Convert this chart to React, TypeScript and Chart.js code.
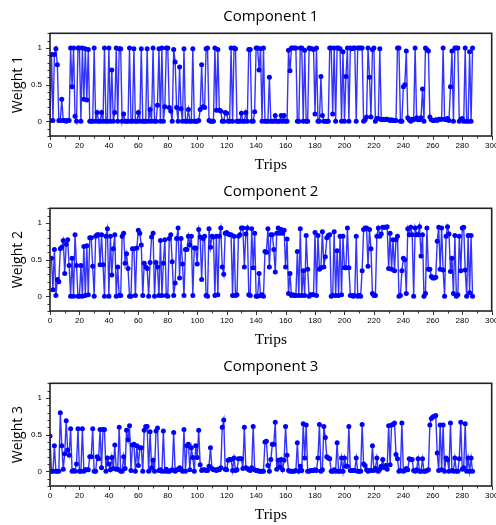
import React, { useEffect, useRef } from "react";
import { Chart, registerables } from "chart.js";

Chart.register(...registerables);

// Trip index (x values)
const TRIPS: number[] = Array.from({ length: 288 }, (_, i) => i);

const WEIGHT_1: number[] = [
  0.01, 0.91, 0.01, 0.91, 0.99, 0.77, 0.01, 0.01, 0.30, 0.01,
  0.01, 0.0, 0.01, 0.01, 1.0, 0.47, 1.0, 0.07, 0.0, 1.0,
  1.0, 0.0, 1.0, 0.30, 0.99, 0.29, 0.98, 0.0, 0.0, 0.0,
  1.0, 0.0, 0.12, 0.0, 0.0, 0.12, 0.0, 1.0, 0.0, 0.0,
  1.0, 0.0, 0.70, 0.0, 0.12, 1.0, 0.0, 0.99, 0.99, 0.0,
  0.10, 0.0, 0.0, 0.0, 1.0, 0.0, 0.0, 0.99, 0.0, 0.0,
  0.12, 0.0, 0.99, 0.0, 0.0, 0.0, 0.99, 0.0, 0.16, 0.0,
  1.0, 0.0, 0.0, 0.22, 0.99, 0.0, 1.0, 0.0, 0.20, 1.0,
  1.0, 0.19, 0.14, 0.0, 0.98, 0.81, 0.19, 0.0, 0.74, 0.17,
  0.0, 0.99, 0.0, 0.0, 0.16, 0.0, 0.0, 0.99, 0.0, 0.0,
  0.0, 0.01, 0.16, 0.77, 0.20, 0.19, 0.99, 1.0, 0.01, 0.0,
  0.0, 0.0, 1.0, 0.15, 0.98, 0.15, 0.14, 0.0, 0.0, 0.12,
  0.11, 0.0, 0.0, 1.0, 0.0, 1.0, 0.99, 0.0, 0.0, 0.0,
  0.11, 0.0, 0.0, 0.12, 0.0, 0.98, 0.98, 0.0, 0.0, 0.13,
  1.0, 1.0, 0.70, 0.99, 0.0, 1.0, 0.0, 0.0, 0.0, 0.60,
  0.0, 0.0, 0.0, 0.08, 0.0, 0.0, 0.0, 0.08, 0.0, 0.08,
  0.0, 0.0, 0.97, 0.69, 1.0, 1.0, 1.0, 1.0, 0.0, 0.0,
  1.0, 1.0, 0.0, 0.97, 0.0, 0.0, 1.0, 0.99, 0.99, 0.98,
  0.10, 1.0, 0.0, 0.0, 0.61, 0.08, 0.0, 0.0, 0.0, 0.0,
  1.0, 1.0, 0.10, 1.0, 0.0, 1.0, 1.0, 0.99, 0.0, 0.95,
  0.0, 0.61, 1.0, 0.0, 1.0, 0.99, 1.0, 1.0, 0.0, 1.0,
  1.0, 1.0, 1.0, 0.0, 0.02, 0.06, 1.0, 0.60, 0.06, 0.98,
  1.0, 0.0, 0.04, 0.04, 0.99, 0.02, 0.03, 0.02, 0.03, 0.03,
  0.02, 0.01, 0.02, 0.01, 0.01, 0.01, 1.0, 1.0, 0.0, 0.0,
  0.47, 0.50, 0.96, 0.05, 0.02, 0.0, 0.03, 0.02, 1.0, 0.05,
  0.02, 0.02, 0.05, 0.44, 0.0, 1.0, 0.98, 0.96, 0.06, 0.02,
  0.01, 0.01, 0.02, 0.01, 0.03, 0.03, 0.03, 1.0, 0.03, 0.02,
  0.04, 0.01, 0.47, 0.96, 0.0, 1.0, 1.0, 1.0, 0.0, 0.03,
  0.04, 0.0, 1.0, 0.0, 0.0, 0.95, 0.0, 1.0,
];

const WEIGHT_2: number[] = [
  0.52, 0.52, 0.09, 0.64, 0.01, 0.23, 0.20, 0.65, 0.67, 0.76,
  0.31, 0.71, 0.77, 0.42, 0.0, 0.52, 0.0, 0.84, 0.42, 0.0,
  0.0, 0.42, 0.0, 0.68, 0.01, 0.69, 0.02, 0.80, 0.80, 0.41,
  0.0, 0.82, 0.84, 0.84, 0.43, 0.84, 0.43, 0.0, 0.82, 0.92,
  0.0, 0.82, 0.29, 0.65, 0.84, 0.0, 0.40, 0.01, 0.01, 0.82,
  0.86, 0.45, 0.58, 0.38, 0.0, 0.0, 0.65, 0.65, 0.01, 0.66,
  0.90, 0.86, 0.70, 0.01, 0.45, 0.40, 0.38, 0.0, 0.46, 0.81,
  0.86, 0.0, 0.46, 0.40, 0.01, 0.76, 0.01, 0.45, 0.77, 0.01,
  0.0, 0.79, 0.84, 0.47, 0.01, 0.18, 0.79, 0.93, 0.25, 0.79,
  0.44, 0.01, 0.64, 0.64, 0.82, 0.70, 0.82, 0.01, 0.66, 0.66,
  0.44, 0.91, 0.81, 0.23, 0.79, 0.82, 0.01, 0.0, 0.92, 0.67,
  0.82, 0.81, 0.01, 0.82, 0.02, 0.82, 0.93, 0.40, 0.30, 0.86,
  0.87, 0.85, 0.84, 0.84, 0.01, 0.82, 0.01, 0.02, 0.82, 0.84,
  0.93, 0.93, 0.40, 0.85, 0.93, 0.02, 0.01, 0.92, 0.39, 0.86,
  0.0, 0.0, 0.31, 0.01, 0.02, 0.0, 0.61, 0.60, 0.92, 0.40,
  0.84, 0.84, 0.64, 0.33, 0.86, 0.93, 0.86, 0.91, 0.86, 0.90,
  0.40, 0.78, 0.04, 0.31, 0.01, 0.02, 0.01, 0.01, 0.61, 0.01,
  0.92, 0.01, 0.35, 0.01, 0.83, 0.37, 0.0, 0.02, 0.02, 0.02,
  0.87, 0.01, 0.83, 0.37, 0.39, 0.88, 0.40, 0.54, 0.80, 0.83,
  0.84, 0.0, 0.01, 0.88, 0.01, 0.62, 0.01, 0.82, 0.02, 0.82,
  0.39, 0.39, 0.93, 0.39, 0.01, 0.01, 0.0, 0.01, 0.82, 0.0,
  0.01, 0.0, 0.35, 0.91, 0.93, 0.93, 0.41, 0.91, 0.65, 0.04,
  0.01, 0.01, 0.82, 0.93, 0.82, 0.85, 0.94, 0.94, 0.94, 0.95,
  0.38, 0.86, 0.37, 0.77, 0.35, 0.77, 0.82, 0.0, 0.01, 0.35,
  0.52, 0.50, 0.04, 0.92, 0.84, 0.94, 0.84, 0.0, 0.93, 0.84,
  0.84, 0.95, 0.55, 0.84, 0.0, 0.04, 0.93, 0.37, 0.37, 0.27,
  0.25, 0.25, 0.26, 0.75, 0.94, 0.37, 0.93, 0.36, 0.0, 0.82,
  0.95, 0.85, 0.34, 0.52, 0.04, 0.83, 0.0, 0.02, 0.82, 0.35,
  0.93, 0.94, 0.36, 0.0, 0.83, 0.05, 0.83, 0.0,
];

const WEIGHT_3: number[] = [
  0.48, 0.0, 0.0, 0.35, 0.0, 0.0, 0.0, 0.80, 0.35, 0.03,
  0.24, 0.69, 0.29, 0.22, 0.58, 0.0, 0.01, 0.0, 0.10, 0.58,
  0.0, 0.0, 0.58, 0.0, 0.02, 0.02, 0.02, 0.20, 0.20, 0.58,
  0.0, 0.0, 0.20, 0.17, 0.57, 0.05, 0.57, 0.57, 0.0, 0.18,
  0.10, 0.02, 0.19, 0.04, 0.36, 0.03, 0.03, 0.60, 0.0, 0.0,
  0.20, 0.04, 0.56, 0.43, 0.62, 0.01, 0.36, 0.37, 0.0, 0.35,
  0.08, 0.32, 0.32, 0.0, 0.56, 0.61, 0.61, 0.0, 0.54, 0.05,
  0.15, 0.0, 0.55, 0.59, 0.01, 0.02, 0.0, 0.55, 0.0, 0.03,
  0.0, 0.0, 0.01, 0.02, 0.53, 0.0, 0.02, 0.02, 0.05, 0.03,
  0.0, 0.57, 0.0, 0.35, 0.37, 0.02, 0.32, 0.19, 0.0, 0.35,
  0.19, 0.56, 0.09, 0.01, 0.02, 0.02, 0.01, 0.01, 0.07, 0.32,
  0.04, 0.02, 0.02, 0.01, 0.03, 0.02, 0.05, 0.60, 0.70, 0.03,
  0.02, 0.15, 0.16, 0.16, 0.01, 0.18, 0.01, 0.02, 0.17, 0.17,
  0.17, 0.04, 0.60, 0.05, 0.04, 0.02, 0.01, 0.05, 0.61, 0.02,
  0.01, 0.01, 0.0, 0.0, 0.0, 0.0, 0.40, 0.41, 0.08, 0.0,
  0.16, 0.37, 0.37, 0.67, 0.03, 0.15, 0.06, 0.16, 0.02, 0.15,
  0.61, 0.22, 0.01, 0.0, 0.0, 0.0, 0.0, 0.01, 0.39, 0.0,
  0.07, 0.01, 0.65, 0.18, 0.63, 0.0, 0.0, 0.01, 0.01, 0.01,
  0.02, 0.01, 0.18, 0.64, 0.0, 0.02, 0.61, 0.46, 0.20, 0.18,
  0.17, 0.0, 0.0, 0.02, 0.0, 0.39, 0.0, 0.0, 0.18, 0.0,
  0.18, 0.07, 0.07, 0.61, 0.01, 0.01, 0.01, 0.01, 0.18, 0.0,
  0.0, 0.0, 0.64, 0.10, 0.08, 0.02, 0.0, 0.01, 0.01, 0.35,
  0.01, 0.04, 0.18, 0.0, 0.03, 0.07, 0.16, 0.05, 0.08, 0.03,
  0.62, 0.09, 0.63, 0.64, 0.66, 0.23, 0.17, 0.0, 0.01, 0.66,
  0.0, 0.01, 0.04, 0.02, 0.17, 0.16, 0.16, 0.01, 0.0, 0.02,
  0.17, 0.0, 0.0, 0.17, 0.0, 0.0, 0.01, 0.02, 0.63, 0.72,
  0.74, 0.75, 0.76, 0.25, 0.01, 0.63, 0.02, 0.63, 0.0, 0.18,
  0.16, 0.0, 0.66, 0.01, 0.0, 0.18, 0.0, 0.0, 0.17, 0.67,
  0.03, 0.05, 0.65, 0.0, 0.18, 0.0, 0.18, 0.0,
];

const SERIES: number[][] = [WEIGHT_1, WEIGHT_2, WEIGHT_3];
const TITLES: string[] = ["Component 1", "Component 2", "Component 3"];
const Y_TITLES: string[] = ["Weight 1", "Weight 2", "Weight 3"];
const X_TITLE = "Trips";
const X_TICKS: number[] = [0, 20, 40, 60, 80, 100, 120, 140, 160, 180, 200, 220, 240, 260, 280, 300];
const Y_TICKS: number[] = [0, 0.5, 1];
const Y_TICK_LABELS: string[] = ["0", "0.5", "1"];
const X_MINOR: number[] = [10, 30, 50, 70, 90, 110, 130, 150, 170, 190, 210, 230, 250, 270, 290];
const Y_MINOR: number[] = [-0.2, -0.1, 0.1, 0.2, 0.3, 0.4, 0.6, 0.7, 0.8, 0.9, 1.1, 1.2];

const TICK_FONT = { family: "'Liberation Sans', Arial, sans-serif", size: 8 };

const framePlugin = {
  id: "frameAndText",
  afterDraw(chart: any, _args: any, opts: any) {
    const { ctx, chartArea: a, scales } = chart;
    ctx.save();
    ctx.strokeStyle = "#333";
    ctx.lineWidth = 1;
    const line = (x1: number, y1: number, x2: number, y2: number) => {
      ctx.beginPath();
      ctx.moveTo(x1, y1);
      ctx.lineTo(x2, y2);
      ctx.stroke();
    };
    X_TICKS.forEach((v) => {
      const x = Math.round(scales.x.getPixelForValue(v)) + 0.5;
      line(x, a.bottom, x, a.bottom + 4);
    });
    X_MINOR.forEach((v) => {
      const x = Math.round(scales.x.getPixelForValue(v)) + 0.5;
      line(x, a.bottom, x, a.bottom + 2.5);
    });
    Y_TICKS.forEach((v) => {
      const y = Math.round(scales.y.getPixelForValue(v)) + 0.5;
      line(a.left - 4, y, a.left, y);
    });
    Y_MINOR.forEach((v) => {
      const y = Math.round(scales.y.getPixelForValue(v)) + 0.5;
      line(a.left - 2.5, y, a.left, y);
    });
    ctx.lineWidth = 1.6;
    ctx.strokeStyle = "#222";
    ctx.strokeRect(a.left, a.top, a.right - a.left, a.bottom - a.top);

    ctx.fillStyle = "#000";
    ctx.textAlign = "center";
    ctx.textBaseline = "middle";
    const cx = (a.left + a.right) / 2;
    ctx.font = "15px 'Open Sans', sans-serif";
    ctx.fillText(opts.title, cx, 17);
    ctx.font = "15.5px 'Liberation Serif', 'Times New Roman', serif";
    ctx.fillText(X_TITLE, cx, 165);
    ctx.save();
    ctx.translate(18, (a.top + a.bottom) / 2);
    ctx.rotate(-Math.PI / 2);
    ctx.font = "14px 'Open Sans', sans-serif";
    ctx.fillText(opts.yTitle, 0, 0);
    ctx.restore();
    ctx.restore();
  },
};

function Panel({ idx }: { idx: number }) {
  const ref = useRef<HTMLCanvasElement>(null);
  useEffect(() => {
    if (!ref.current) return;
    const values = SERIES[idx];
    const chart = new Chart(ref.current, {
      type: "line",
      data: {
        datasets: [
          {
            data: TRIPS.map((t, i) => ({ x: t, y: values[i] })),
            borderColor: "rgba(0,0,255,0.8)",
            borderWidth: 1.4,
            pointRadius: 2.5,
            pointBackgroundColor: "#0000ff",
            pointBorderWidth: 0,
            pointStyle: "circle",
            tension: 0,
          },
        ],
      },
      options: {
        responsive: false,
        animation: false,
        layout: { padding: { top: 33.3, right: 18.3, left: 0, bottom: 0 } },
        plugins: {
          legend: { display: false },
          tooltip: { enabled: false },
          title: { display: false },
          frameAndText: { title: TITLES[idx], yTitle: Y_TITLES[idx] },
        } as any,
        scales: {
          x: {
            type: "linear",
            min: 0,
            max: 300,
            grid: { display: false, drawTicks: false },
            border: { display: false },
            ticks: { font: TICK_FONT, color: "#000", padding: 5, maxRotation: 0, autoSkip: false },
            afterBuildTicks: (s: any) => {
              s.ticks = X_TICKS.map((v) => ({ value: v }));
            },
            afterFit: (s: any) => {
              s.height = 39;
            },
          },
          y: {
            type: "linear",
            min: -0.2,
            max: 1.2,
            grid: { display: false, drawTicks: false },
            border: { display: false },
            ticks: {
              font: TICK_FONT,
              color: "#000",
              padding: 8,
              callback: (v: any) => {
                const k = Y_TICKS.indexOf(Number(v));
                return k >= 0 ? Y_TICK_LABELS[k] : "";
              },
            },
            afterBuildTicks: (s: any) => {
              s.ticks = Y_TICKS.map((v) => ({ value: v }));
            },
            afterFit: (s: any) => {
              s.width = 50;
            },
          },
        },
      } as any,
      plugins: [framePlugin],
    });
    return () => chart.destroy();
  }, [idx]);
  return <canvas ref={ref} width={510} height={175} style={{ display: "block", width: 510, height: 175 }} />;
}

export default function App() {
  return (
    <div
      style={{
        position: "absolute",
        left: 0,
        top: 0,
        width: 496,
        height: 525,
        overflow: "hidden",
        background: "#fff",
      }}
    >
      {[0, 1, 2].map((i) => (
        <Panel key={i} idx={i} />
      ))}
    </div>
  );
}
